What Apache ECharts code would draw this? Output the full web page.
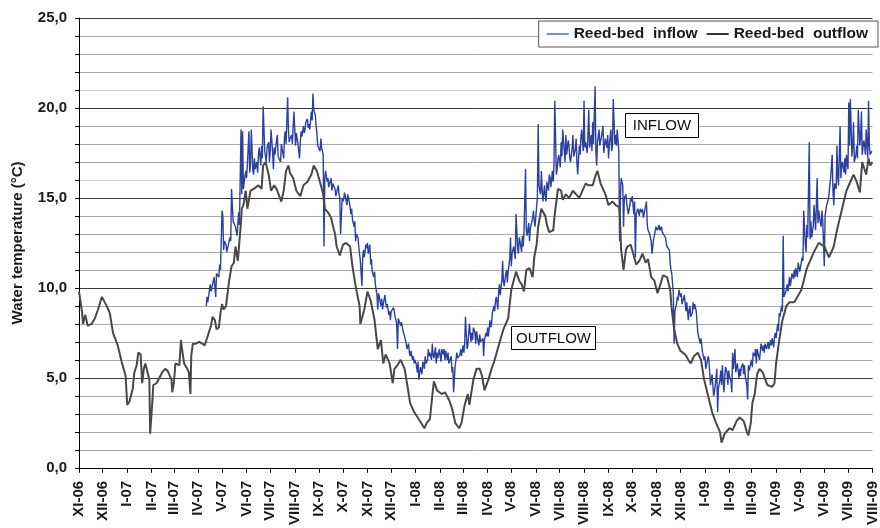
<!DOCTYPE html>
<html>
<head>
<meta charset="utf-8">
<title>Reed-bed water temperature</title>
<script src="https://cdn.jsdelivr.net/npm/echarts@6/dist/echarts.min.js"></script>
<style>
  html, body { margin: 0; padding: 0; background: #fff; }
  #chart { width: 880px; height: 528px; }
</style>
</head>
<body>
<div id="chart"></div>
<script>
// Record starts on 1 November 2006; readings are [day of record, water temperature °C].
const recordStart = [2006, 10, 1];

const monthLabels = [
  'XI-06', 'XII-06', 'I-07', 'II-07', 'III-07', 'IV-07', 'V-07', 'VI-07', 'VII-07', 'VIII-07',
  'IX-07', 'X-07', 'XI-07', 'XII-07', 'I-08', 'II-08', 'III-08', 'IV-08', 'V-08', 'VI-08',
  'VII-08', 'VIII-08', 'IX-08', 'X-08', 'XI-08', 'XII-08', 'I-09', 'II-09', 'III-09', 'IV-09',
  'V-09', 'VI-09', 'VII-09', 'VIII-09'
];

const yTickLabels = ['0,0', '5,0', '10,0', '15,0', '20,0', '25,0'];

const outflowReadings = [
  [0, 9.8], [1, 9.7], [4, 8.6], [5, 8.0], [8, 8.5], [11, 7.9], [16, 8.0], [20, 8.3], [24, 8.8],
  [29, 9.5], [30, 9.4], [35, 9.0], [39, 8.6], [41, 8.6], [43, 7.5], [45, 7.4], [49, 6.8], [54, 5.9],
  [56, 5.8], [59, 5.1], [61, 3.5], [64, 3.7], [68, 4.4], [70, 5.3], [73, 5.7], [75, 6.4], [78, 6.3],
  [80, 4.7], [82, 5.5], [84, 5.8], [85, 5.7], [89, 4.9], [90, 1.9], [93, 3.8], [94, 4.6], [98, 4.7],
  [100, 4.7], [103, 5.1], [105, 5.3], [109, 5.5], [112, 5.4], [117, 4.9], [118, 4.2], [120, 4.7],
  [122, 5.8], [124, 5.8], [127, 5.7], [129, 7.1], [131, 6.4], [133, 5.8], [137, 5.5], [139, 5.3],
  [141, 4.1], [142, 6.2], [144, 6.9], [148, 6.9], [152, 7.0], [156, 6.9], [159, 6.8], [162, 7.2],
  [167, 7.9], [169, 8.4], [172, 8.2], [174, 7.7], [177, 7.8], [179, 8.6], [181, 9.1], [183, 8.8],
  [186, 9.0], [190, 10.4], [193, 11.2], [196, 11.4], [198, 12.3], [201, 11.5], [205, 13.7], [206, 14.4],
  [208, 14.6], [211, 15.4], [213, 14.4], [217, 15.4], [221, 15.5], [227, 15.7], [231, 15.5], [233, 16.8],
  [236, 17.0], [240, 16.3], [243, 15.4], [247, 15.7], [250, 15.5], [256, 14.8], [259, 15.4], [262, 16.5],
  [265, 16.8], [267, 16.4], [271, 16.1], [275, 15.4], [280, 15.1], [284, 15.7], [289, 15.9], [294, 16.3],
  [297, 16.8], [301, 16.5], [306, 15.7], [309, 15.2], [311, 14.4], [315, 14.2], [319, 13.9], [321, 13.5],
  [324, 13.0], [326, 12.3], [330, 11.8], [334, 12.4], [338, 12.5], [343, 12.3], [346, 11.2], [350, 10.1],
  [355, 9.0], [356, 8.0], [361, 8.8], [365, 9.8], [369, 9.3], [374, 8.2], [378, 6.6], [382, 7.1],
  [385, 5.8], [388, 6.3], [393, 5.8], [397, 4.7], [399, 5.5], [403, 5.7], [407, 6.0], [412, 5.5],
  [415, 4.7], [419, 3.6], [424, 3.1], [430, 2.7], [437, 2.2], [440, 2.5], [444, 2.7], [447, 4.0],
  [449, 4.8], [453, 4.3], [459, 4.1], [463, 4.2], [468, 3.8], [472, 3.3], [476, 2.5], [481, 2.2],
  [484, 2.5], [488, 3.5], [492, 4.1], [494, 3.5], [499, 4.9], [503, 5.5], [507, 5.5], [510, 5.1],
  [513, 4.3], [518, 4.9], [522, 5.5], [526, 6.0], [531, 6.8], [537, 7.7], [541, 8.1], [543, 8.3],
  [547, 9.9], [550, 10.4], [553, 10.9], [557, 10.4], [560, 10.2], [563, 9.8], [566, 11.0], [570, 11.1],
  [574, 10.6], [576, 11.7], [579, 12.4], [581, 13.4], [585, 14.4], [587, 14.5], [590, 14.0], [592, 13.5],
  [595, 13.1], [597, 13.1], [600, 13.2], [602, 14.1], [606, 15.5], [610, 15.4], [612, 14.9], [616, 15.2],
  [620, 15.0], [625, 15.4], [629, 15.2], [633, 15.0], [638, 15.5], [641, 15.8], [645, 15.7], [650, 15.7],
  [654, 16.3], [656, 16.5], [660, 15.8], [663, 15.5], [666, 15.2], [670, 14.6], [675, 14.8], [679, 14.6],
  [683, 14.5], [684, 14.3], [686, 12.1], [689, 11.0], [692, 12.1], [694, 12.3], [698, 12.4], [700, 12.1],
  [705, 11.3], [709, 11.5], [713, 11.9], [717, 11.4], [720, 11.6], [724, 10.6], [728, 10.4], [732, 9.7],
  [735, 10.1], [739, 10.7], [744, 10.6], [748, 9.9], [750, 8.8], [753, 7.7], [757, 6.9], [761, 6.5],
  [767, 6.3], [771, 6.0], [774, 5.8], [778, 6.2], [783, 6.4], [787, 6.0], [791, 4.9], [796, 4.0],
  [801, 3.1], [806, 2.5], [811, 2.0], [813, 1.4], [817, 1.9], [823, 2.2], [827, 2.1], [832, 2.6],
  [836, 2.8], [841, 2.6], [845, 2.0], [847, 1.8], [850, 2.5], [852, 3.6], [855, 4.1], [858, 5.2],
  [861, 5.5], [865, 5.3], [871, 4.6], [877, 4.5], [880, 4.7], [882, 5.8], [886, 7.1], [890, 8.2],
  [895, 9.0], [899, 9.2], [905, 9.2], [909, 9.5], [914, 9.9], [917, 10.4], [921, 11.1], [926, 11.6],
  [930, 12.0], [936, 12.5], [943, 12.3], [949, 11.7], [955, 12.3], [959, 13.2], [965, 14.3], [971, 15.4],
  [976, 15.9], [980, 16.3], [984, 15.9], [988, 15.3], [991, 17.0], [996, 16.3], [999, 17.2], [1001, 16.8],
  [1004, 17.0]
];

const inflowReadings = [
  [161, 9.0], [162, 9.5], [163, 9.2], [166, 10.2], [167, 9.8], [168, 9.9], [171, 10.6], [172, 10.0],
  [173, 9.5], [174, 10.8], [177, 10.6], [178, 11.3], [179, 11.0], [181, 14.3], [182, 14.0], [183, 12.1],
  [184, 12.6], [186, 12.4], [187, 12.0], [188, 12.1], [191, 12.8], [192, 12.6], [193, 15.5], [195, 13.7],
  [197, 13.6], [198, 13.4], [200, 12.9], [201, 13.0], [202, 14.2], [203, 13.5], [205, 18.8], [206, 15.2],
  [207, 18.7], [208, 15.5], [210, 16.2], [211, 16.5], [212, 16.1], [213, 16.8], [215, 18.7], [216, 16.4],
  [217, 16.8], [218, 18.8], [220, 16.5], [221, 16.3], [222, 17.2], [223, 16.6], [225, 17.0], [226, 16.4],
  [227, 17.4], [228, 17.8], [230, 16.8], [231, 17.9], [232, 17.2], [233, 20.1], [235, 17.6], [236, 17.3],
  [237, 17.0], [238, 17.8], [240, 18.1], [241, 17.0], [242, 17.6], [243, 18.8], [245, 17.5], [246, 16.6],
  [247, 17.8], [248, 17.4], [250, 18.2], [251, 18.5], [252, 17.3], [255, 17.0], [256, 18.0], [257, 17.9],
  [259, 17.2], [260, 18.4], [261, 18.7], [262, 18.0], [264, 20.6], [265, 18.8], [266, 18.1], [267, 18.3],
  [269, 18.5], [270, 18.0], [271, 19.0], [272, 19.8], [274, 17.9], [275, 18.6], [276, 18.5], [277, 18.0],
  [279, 17.2], [280, 18.1], [281, 18.7], [282, 18.4], [284, 19.0], [285, 18.6], [286, 18.8], [287, 19.2],
  [289, 19.4], [290, 18.9], [291, 19.1], [292, 18.8], [294, 19.8], [295, 19.3], [296, 20.8], [297, 19.9],
  [299, 19.6], [300, 19.0], [301, 18.6], [302, 17.9], [304, 18.0], [305, 17.6], [306, 18.3], [307, 17.8],
  [309, 17.4], [310, 12.3], [311, 16.1], [312, 16.5], [314, 15.9], [315, 16.1], [316, 15.6], [319, 16.1],
  [320, 15.4], [321, 15.8], [324, 15.5], [325, 15.1], [328, 15.7], [329, 15.2], [330, 15.0], [331, 13.0],
  [333, 15.0], [334, 14.8], [335, 15.0], [336, 15.3], [338, 15.4], [339, 14.6], [340, 15.2], [341, 15.0],
  [343, 14.5], [344, 14.1], [345, 14.4], [346, 13.8], [348, 13.4], [349, 13.7], [350, 12.6], [351, 13.0],
  [353, 12.8], [354, 12.3], [355, 11.9], [356, 11.5], [358, 10.1], [359, 11.8], [360, 12.1], [361, 11.7],
  [363, 12.4], [364, 12.2], [365, 12.5], [366, 11.9], [368, 12.4], [369, 11.3], [370, 11.6], [371, 10.9],
  [373, 10.6], [374, 10.9], [375, 10.2], [377, 9.6], [378, 8.8], [379, 9.7], [380, 9.5], [382, 9.0],
  [383, 9.4], [384, 8.8], [385, 9.1], [387, 9.6], [388, 9.5], [389, 8.9], [390, 9.1], [392, 8.5],
  [393, 8.7], [394, 8.2], [395, 8.7], [397, 8.6], [398, 8.9], [399, 8.8], [400, 8.4], [402, 8.0],
  [403, 6.6], [404, 8.3], [405, 8.4], [407, 7.9], [408, 8.1], [409, 8.0], [410, 7.6], [412, 7.3],
  [413, 7.2], [414, 6.9], [415, 6.6], [417, 6.9], [418, 6.4], [419, 6.2], [420, 6.5], [422, 6.0],
  [423, 6.2], [424, 5.8], [425, 6.0], [427, 5.7], [428, 5.3], [429, 5.9], [430, 4.9], [432, 5.6],
  [433, 5.7], [434, 5.2], [435, 5.9], [437, 5.5], [438, 6.2], [439, 5.8], [441, 6.0], [442, 6.6],
  [443, 6.2], [444, 6.4], [446, 6.0], [447, 6.9], [448, 6.3], [449, 6.1], [451, 6.7], [452, 5.8],
  [453, 6.4], [454, 6.1], [456, 6.6], [457, 6.2], [458, 5.9], [459, 6.6], [461, 6.3], [462, 6.6],
  [463, 6.0], [464, 6.5], [466, 6.0], [467, 6.4], [468, 5.8], [469, 5.8], [471, 6.2], [472, 5.3],
  [473, 5.6], [474, 4.2], [476, 5.7], [477, 6.0], [478, 6.4], [479, 6.1], [481, 6.0], [482, 6.3],
  [483, 6.6], [484, 6.2], [486, 6.8], [487, 6.4], [488, 6.9], [489, 8.4], [491, 6.6], [492, 6.8],
  [493, 7.4], [494, 8.0], [496, 7.0], [497, 7.5], [498, 7.1], [499, 7.8], [501, 7.5], [502, 6.9],
  [503, 7.6], [505, 7.0], [506, 6.8], [507, 7.4], [508, 7.0], [510, 6.9], [511, 7.2], [512, 6.2],
  [513, 7.1], [515, 7.5], [516, 7.3], [517, 7.8], [518, 7.3], [520, 8.2], [521, 7.8], [522, 8.0],
  [523, 8.6], [525, 9.0], [526, 8.7], [527, 9.3], [528, 9.5], [530, 8.8], [531, 9.8], [532, 10.2],
  [533, 9.6], [535, 10.4], [536, 11.5], [537, 10.4], [538, 10.1], [540, 10.8], [541, 11.0], [542, 10.3],
  [543, 10.9], [545, 11.6], [546, 12.8], [547, 11.2], [548, 11.9], [550, 12.3], [551, 12.4], [552, 11.6],
  [553, 14.1], [555, 12.2], [556, 11.9], [557, 12.8], [558, 12.6], [560, 12.0], [561, 12.9], [562, 12.3],
  [563, 13.0], [565, 16.6], [566, 13.2], [567, 12.9], [569, 13.6], [570, 12.6], [571, 13.3], [572, 13.5],
  [574, 13.9], [575, 14.3], [576, 13.7], [577, 13.4], [579, 14.5], [580, 15.0], [581, 19.1], [582, 15.7],
  [584, 15.2], [585, 16.5], [586, 15.5], [587, 14.8], [589, 15.7], [590, 15.1], [591, 14.8], [592, 15.9],
  [594, 15.4], [595, 16.3], [596, 16.1], [597, 15.6], [599, 16.5], [600, 15.9], [601, 16.8], [602, 20.4],
  [604, 16.3], [605, 16.6], [606, 17.1], [607, 17.4], [609, 16.7], [610, 18.1], [611, 17.3], [612, 18.8],
  [614, 17.6], [615, 17.0], [616, 18.5], [617, 17.4], [619, 18.2], [620, 17.9], [621, 17.2], [622, 17.0],
  [624, 17.8], [625, 18.5], [626, 17.3], [628, 17.7], [629, 18.3], [630, 17.0], [631, 16.3], [633, 17.9],
  [634, 17.4], [635, 18.3], [636, 18.8], [638, 17.6], [639, 20.4], [640, 17.8], [641, 18.1], [643, 17.5],
  [644, 18.6], [645, 19.9], [646, 17.8], [648, 18.5], [649, 17.6], [650, 19.2], [651, 18.0], [653, 21.2],
  [654, 17.6], [655, 16.8], [656, 18.1], [658, 18.8], [659, 17.9], [660, 17.9], [661, 18.4], [663, 19.0],
  [664, 17.5], [665, 17.6], [666, 18.3], [668, 17.8], [669, 18.5], [670, 17.2], [671, 17.9], [673, 18.8],
  [674, 17.6], [675, 17.9], [676, 20.5], [678, 18.0], [679, 18.5], [680, 17.9], [681, 18.8], [683, 17.6],
  [684, 12.6], [685, 15.0], [686, 16.1], [688, 15.7], [689, 13.4], [690, 15.0], [692, 15.2], [693, 14.7],
  [694, 14.8], [695, 14.1], [697, 14.6], [698, 15.0], [699, 14.8], [700, 15.1], [702, 14.1], [703, 14.8],
  [704, 11.7], [705, 14.1], [707, 14.4], [708, 14.3], [709, 14.0], [710, 14.4], [712, 14.2], [713, 14.4],
  [714, 13.9], [715, 14.1], [717, 14.0], [718, 14.8], [719, 13.5], [720, 13.2], [722, 13.0], [723, 12.8],
  [724, 12.6], [725, 11.9], [727, 12.7], [728, 12.9], [729, 13.0], [730, 13.4], [732, 13.2], [733, 13.3],
  [734, 13.5], [735, 13.2], [737, 13.4], [738, 13.1], [739, 13.2], [740, 13.0], [742, 12.8], [743, 12.5],
  [744, 12.3], [745, 12.4], [747, 12.1], [748, 11.4], [749, 11.0], [750, 10.8], [752, 9.7], [753, 6.9],
  [754, 8.7], [756, 9.1], [757, 9.5], [758, 9.3], [759, 9.9], [761, 9.5], [762, 9.7], [763, 9.1],
  [764, 9.0], [766, 9.6], [767, 9.5], [768, 8.7], [769, 9.2], [771, 8.2], [772, 8.8], [773, 9.0],
  [774, 8.4], [776, 8.6], [777, 9.2], [778, 8.8], [779, 9.1], [781, 8.7], [782, 8.6], [783, 7.5],
  [784, 7.3], [786, 6.9], [787, 7.2], [788, 6.8], [789, 6.4], [791, 6.0], [792, 6.2], [793, 5.5],
  [794, 5.7], [796, 6.2], [797, 6.0], [798, 5.3], [799, 4.6], [801, 5.2], [802, 5.1], [803, 4.0],
  [804, 4.2], [806, 5.0], [807, 5.5], [808, 3.1], [809, 4.4], [811, 4.9], [812, 5.4], [813, 4.6],
  [814, 5.7], [816, 4.2], [817, 4.9], [818, 5.6], [820, 5.3], [821, 4.6], [822, 5.4], [823, 5.1],
  [825, 4.8], [826, 4.2], [827, 6.4], [828, 5.5], [830, 6.6], [831, 5.3], [832, 5.6], [833, 5.8],
  [835, 5.0], [836, 5.5], [837, 5.1], [838, 5.6], [840, 5.8], [841, 5.2], [842, 5.7], [843, 5.1],
  [845, 4.6], [846, 3.8], [847, 5.7], [848, 5.4], [850, 5.8], [851, 6.0], [852, 5.6], [853, 6.4],
  [855, 6.2], [856, 6.6], [857, 5.8], [858, 6.6], [860, 6.5], [861, 6.0], [862, 6.4], [863, 6.9],
  [865, 6.5], [866, 6.8], [867, 6.4], [868, 6.9], [870, 6.6], [871, 6.5], [872, 7.0], [873, 6.6],
  [875, 7.1], [876, 6.8], [877, 7.2], [879, 6.7], [880, 7.3], [881, 7.5], [882, 7.2], [884, 8.0],
  [885, 7.6], [886, 8.6], [887, 8.4], [889, 9.0], [890, 8.7], [891, 12.9], [892, 9.5], [894, 9.6],
  [895, 9.9], [896, 10.2], [897, 9.8], [899, 10.6], [900, 10.1], [901, 10.4], [902, 10.8], [904, 10.5],
  [905, 11.0], [906, 10.6], [907, 11.1], [909, 10.6], [910, 11.4], [911, 11.3], [912, 10.9], [914, 11.0],
  [915, 11.7], [916, 11.5], [917, 14.3], [919, 12.4], [920, 12.0], [921, 13.5], [922, 12.8], [924, 18.1],
  [925, 12.7], [926, 13.7], [927, 12.8], [929, 13.4], [930, 14.6], [931, 13.9], [932, 13.2], [934, 16.1],
  [935, 13.6], [936, 14.3], [937, 13.9], [939, 13.4], [940, 14.3], [941, 13.8], [943, 11.2], [944, 14.0],
  [945, 13.9], [946, 14.6], [948, 14.9], [949, 15.2], [950, 15.7], [951, 16.1], [953, 17.4], [954, 15.4],
  [955, 14.6], [956, 15.8], [958, 15.5], [959, 17.9], [960, 16.2], [961, 15.7], [963, 19.0], [964, 16.1],
  [965, 16.8], [966, 17.0], [968, 16.4], [969, 17.2], [970, 16.3], [971, 17.4], [973, 16.6], [974, 20.3],
  [975, 17.9], [976, 20.5], [978, 17.3], [979, 17.9], [980, 19.2], [981, 17.0], [983, 17.4], [984, 17.9],
  [985, 17.2], [986, 19.9], [988, 17.9], [989, 18.4], [990, 19.8], [991, 17.4], [993, 18.2], [994, 17.9],
  [995, 17.4], [996, 18.8], [998, 17.2], [999, 20.4], [1000, 17.9], [1001, 17.4], [1003, 17.6]
];

const romanMonths = ['I', 'II', 'III', 'IV', 'V', 'VI', 'VII', 'VIII', 'IX', 'X', 'XI', 'XII'];

// Day of record on which each labelled month begins.
const DAY_MS = 24 * 3600 * 1000;
const startUtc = Date.UTC(recordStart[0], recordStart[1], recordStart[2]);
const monthTicks = monthLabels.map(function (label) {
  const parts = label.split('-');
  const t = Date.UTC(2000 + Number(parts[1]), romanMonths.indexOf(parts[0]), 1);
  return Math.round((t - startUtc) / DAY_MS);
});
const tickLabelByDay = {};
monthTicks.forEach(function (d, i) { tickLabelByDay[d] = monthLabels[i]; });

// Horizontal grid: dark at every 5 °C, grey in between.
const gridColors = [];
for (let v = 0; v <= 25; v++) {
  if (v % 5 === 0) gridColors.push('#3a3a3a');
  else if (v === 16 || v === 21) gridColors.push('#cfcfcf');
  else gridColors.push('#a8a8a8');
}

const FONT = '"Liberation Sans", Arial, Helvetica, sans-serif';

const chart = echarts.init(document.getElementById('chart'), null, { renderer: 'canvas' });

// Boxed text tag placed over the plot area.
function tag(text, left, top, width, height) {
  return {
    type: 'group',
    left: left,
    top: top,
    z: 100,
    children: [
      { type: 'rect', z: 100, shape: { x: 0.5, y: 0.5, width: width, height: height },
        style: { fill: '#ffffff', stroke: '#000000', lineWidth: 1 } },
      { type: 'text', z: 101, x: width / 2 + 0.5, y: height / 2 + 1,
        style: { text: text, font: '15px ' + FONT, fill: '#111111', align: 'center', verticalAlign: 'middle' } }
    ]
  };
}

chart.setOption({
  animation: false,
  backgroundColor: '#ffffff',
  grid: { left: 79, right: 1, top: 18, bottom: 55, containLabel: false },
  legend: {
    right: 2,
    top: 21,
    orient: 'horizontal',
    backgroundColor: '#ffffff',
    borderColor: '#555555',
    borderWidth: 1,
    borderRadius: 0,
    padding: [5, 10, 5, 8],
    itemGap: 9,
    itemWidth: 22,
    itemHeight: 2,
    icon: 'rect',
    textStyle: { fontFamily: FONT, fontWeight: 'bold', fontSize: 15.5, color: '#1a1a1a' },
    data: [
      { name: 'Reed-bed  inflow', itemStyle: { color: '#7d8ccc' } },
      { name: 'Reed-bed  outflow', itemStyle: { color: '#333333' } }
    ]
  },
  xAxis: {
    type: 'value',
    min: monthTicks[0],
    max: monthTicks[monthTicks.length - 1],
    axisLine: { show: true, onZero: false, lineStyle: { color: '#000000', width: 1 } },
    axisTick: {
      show: true, inside: false, length: 5,
      customValues: monthTicks,
      lineStyle: { color: '#000000', width: 1 }
    },
    axisLabel: {
      show: true,
      customValues: monthTicks,
      rotate: 90,
      margin: 13,
      showMinLabel: true,
      showMaxLabel: true,
      hideOverlap: false,
      fontFamily: FONT,
      fontWeight: 'bold',
      fontSize: 15,
      color: '#1a1a1a',
      formatter: function (value) {
        return tickLabelByDay[Math.round(value)] || '';
      }
    },
    splitLine: { show: false }
  },
  yAxis: {
    type: 'value',
    min: 0,
    max: 25,
    interval: 1,
    name: 'Water temperature (°C)',
    nameLocation: 'middle',
    nameGap: 54,
    nameRotate: 90,
    nameTextStyle: { fontFamily: FONT, fontWeight: 'bold', fontSize: 15, color: '#1a1a1a' },
    axisLine: { show: true, lineStyle: { color: '#000000', width: 1 } },
    axisTick: { show: true, inside: false, length: 4, lineStyle: { color: '#000000' } },
    axisLabel: {
      margin: 12,
      fontFamily: FONT,
      fontWeight: 'bold',
      fontSize: 15,
      color: '#1a1a1a',
      formatter: function (v) {
        return v % 5 === 0 ? yTickLabels[v / 5] : '';
      }
    },
    splitLine: { show: true, lineStyle: { color: gridColors, width: 1 } }
  },
  series: [
    {
      name: 'Reed-bed  inflow',
      type: 'line',
      data: inflowReadings,
      showSymbol: false,
      symbol: 'none',
      color: '#2c40a0',
      lineStyle: { color: '#2c40a0', width: 1.4 },
      z: 2
    },
    {
      name: 'Reed-bed  outflow',
      type: 'line',
      data: outflowReadings,
      showSymbol: false,
      symbol: 'none',
      color: '#484848',
      lineStyle: { color: '#484848', width: 2 },
      z: 3
    }
  ],
  graphic: [
    tag('INFLOW', 625, 113, 73, 24),
    tag('OUTFLOW', 511, 326, 84, 23)
  ]
});
</script>
</body>
</html>
